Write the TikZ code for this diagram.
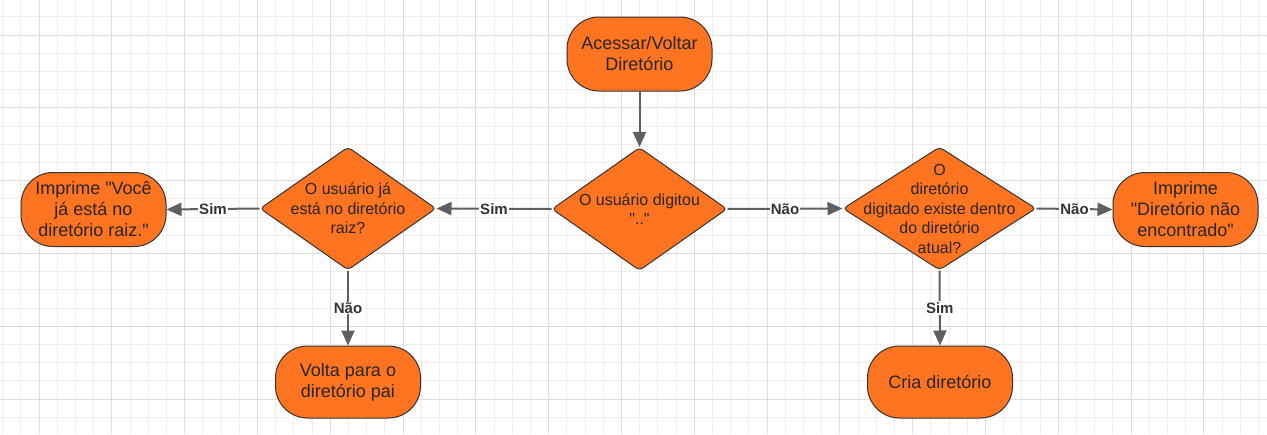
\documentclass[tikz,border=0pt]{standalone}
\usepackage{fontspec}
\setmainfont{Liberation Sans}
\usetikzlibrary{shapes.geometric,arrows.meta}
\definecolor{boxfill}{HTML}{FF7420}
\definecolor{linecol}{HTML}{333333}
\definecolor{txtcol}{HTML}{262626}
\definecolor{conncol}{HTML}{5F5F5F}
\definecolor{lblcol}{HTML}{333333}
\definecolor{gridminor}{HTML}{EEEEEE}
\definecolor{gridmajor}{HTML}{DCDCDC}

\begin{document}
\begin{tikzpicture}[x=1pt,y=-1pt,
  terminal/.style={rectangle, rounded corners=32pt, draw=linecol, line width=1pt,
    fill=boxfill, minimum width=145pt, minimum height=74pt, inner sep=0pt,
    align=center, text=txtcol, font=\fontsize{18}{21}\selectfont},
  decision/.style={diamond, draw=linecol, line width=1pt, fill=boxfill,
    minimum width=#1, minimum height=123pt, inner sep=0pt, rounded corners=4pt},
  dtext/.style={align=center, text=txtcol, font=\fontsize{16}{19.5}\selectfont},
  conn/.style={draw=conncol, line width=2pt, -{Triangle[length=15pt,width=13pt]}},
  lbl/.style={fill=white, inner sep=1pt, text=lblcol, font=\fontsize{15}{18}\bfseries}]
  \useasboundingbox[fill=white] (0,0) rectangle (1267,434);
  % background grid
  \foreach \gx in {2.6,20.8,...,1267} \draw[gridminor, line width=1pt] (\gx,0) -- (\gx,434);
  \foreach \gy in {-1.4,16.8,...,434} \draw[gridminor, line width=1pt] (0,\gy) -- (1267,\gy);
  \foreach \gx in {39,111.8,...,1267} \draw[gridmajor, line width=1pt] (\gx,0) -- (\gx,434);
  \foreach \gy in {35,107.8,...,434} \draw[gridmajor, line width=1pt] (0,\gy) -- (1267,\gy);

  % shapes
  \node[terminal] (acessar) at (639.5,54) {Acessar/Voltar\\Diretório};
  \node[decision=175pt, label={[dtext]center:O usuário digitou\\\textquotedbl..\textquotedbl}] (digitou) at (639.5,209) {};
  \node[decision=176pt, label={[dtext]center:O usuário já\\está no diretório\\raiz?}] (raiz) at (348,208.5) {};
  \node[decision=193pt, label={[dtext]center:O\\diretório\\digitado existe dentro\\do diretório\\atual?}] (existe) at (939.5,208.5) {};
  \node[terminal] (voce) at (93.5,209.5) {Imprime \textquotedbl Você\\já está no\\diretório raiz.\textquotedbl};
  \node[terminal] (naoenc) at (1185.5,209.5) {Imprime\\\textquotedbl Diretório não\\encontrado\textquotedbl};
  \node[terminal, minimum height=72pt] (pai) at (348,382) {Volta para o\\diretório pai};
  \node[terminal, minimum height=72pt] (cria) at (940,382) {Cria diretório};

  % connectors
  \draw[conn] (acessar) -- (digitou);
  \draw[conn] (digitou.west) -- node[lbl] {Sim} (raiz.east);
  \draw[conn] (digitou.east) -- node[lbl] {Não} (existe.west);
  \draw[conn] (raiz.west) -- node[lbl] {Sim} (voce.east);
  \draw[conn] (raiz.south) -- node[lbl] {Não} (pai.north);
  \draw[conn] (existe.east) -- node[lbl] {Não} (naoenc.west);
  \draw[conn] (existe.south) -- node[lbl] {Sim} (cria.north);
\end{tikzpicture}
\end{document}
